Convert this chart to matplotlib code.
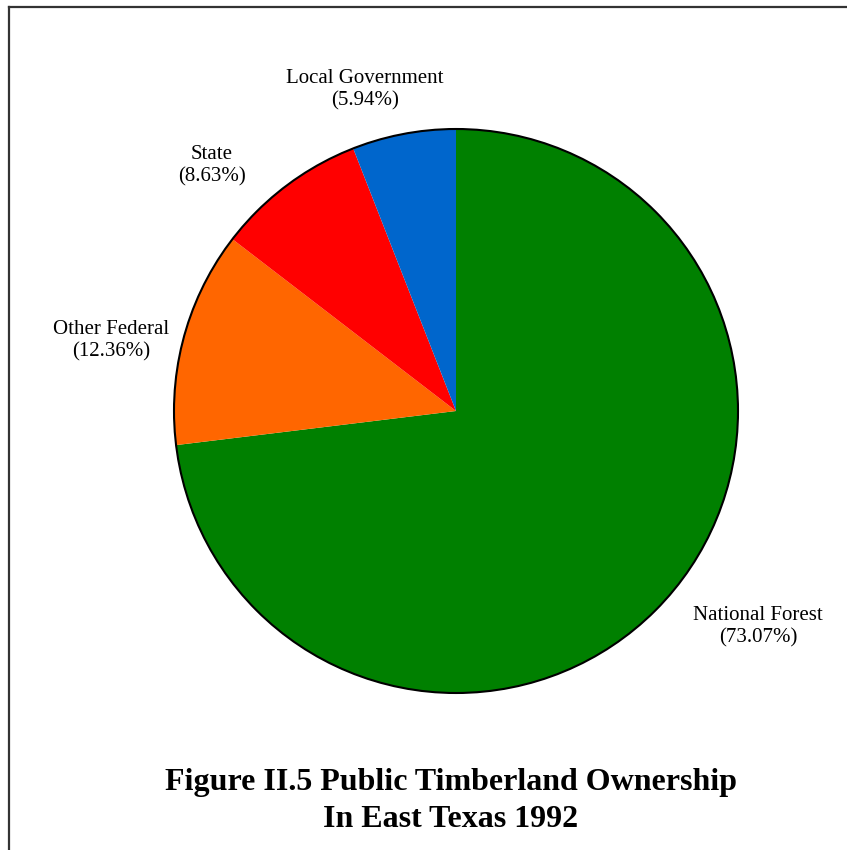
import matplotlib.pyplot as plt
from matplotlib.patches import Circle
from matplotlib.lines import Line2D

# Anteile der öffentlichen Waldflächen (Prozent)
owners = ['National Forest', 'Other Federal', 'State', 'Local Government']
shares = [73.07, 12.36, 8.63, 5.94]
colors = ['#008000', '#FF6600', '#FF0000', '#0066CC']

# Label-Positionen in Pixeln (x, y von oben)
label_pos = [(758, 627), (111, 341), (212, 166), (365, 89.5)]

W, H = 847, 850
fig = plt.figure(figsize=(W / 100, H / 100), dpi=100)
ax = fig.add_axes([0, 0, 1, 1])

cx, cy, r = 456, 411, 282
ax.pie(shares, colors=colors, startangle=90, counterclock=False,
       center=(cx, H - cy), radius=r, wedgeprops=dict(linewidth=0))
ax.add_patch(Circle((cx, H - cy), r, fill=False, edgecolor='black', linewidth=1.5))

for name, val, (x, y) in zip(owners, shares, label_pos):
    ax.text(x, H - y, f'{name}\n({val:.2f}%)', ha='center', va='center',
            family='Liberation Serif', fontsize=15, linespacing=1.23)

ax.text(451, H - 801, 'Figure II.5 Public Timberland Ownership\nIn East Texas 1992',
        ha='center', va='center', family='Liberation Serif', fontweight='bold',
        fontsize=23, linespacing=1.36)

ax.set_xlim(0, W)
ax.set_ylim(0, H)
ax.set_aspect('equal')
ax.axis('off')

# Rahmen oben und links
fig.add_artist(Line2D([8.5 / W, 1], [1 - 6.5 / H, 1 - 6.5 / H], color='#333333', linewidth=1.6))
fig.add_artist(Line2D([8.5 / W, 8.5 / W], [0, 1 - 6.5 / H], color='#333333', linewidth=1.6))

plt.savefig('out.png', dpi=100)
